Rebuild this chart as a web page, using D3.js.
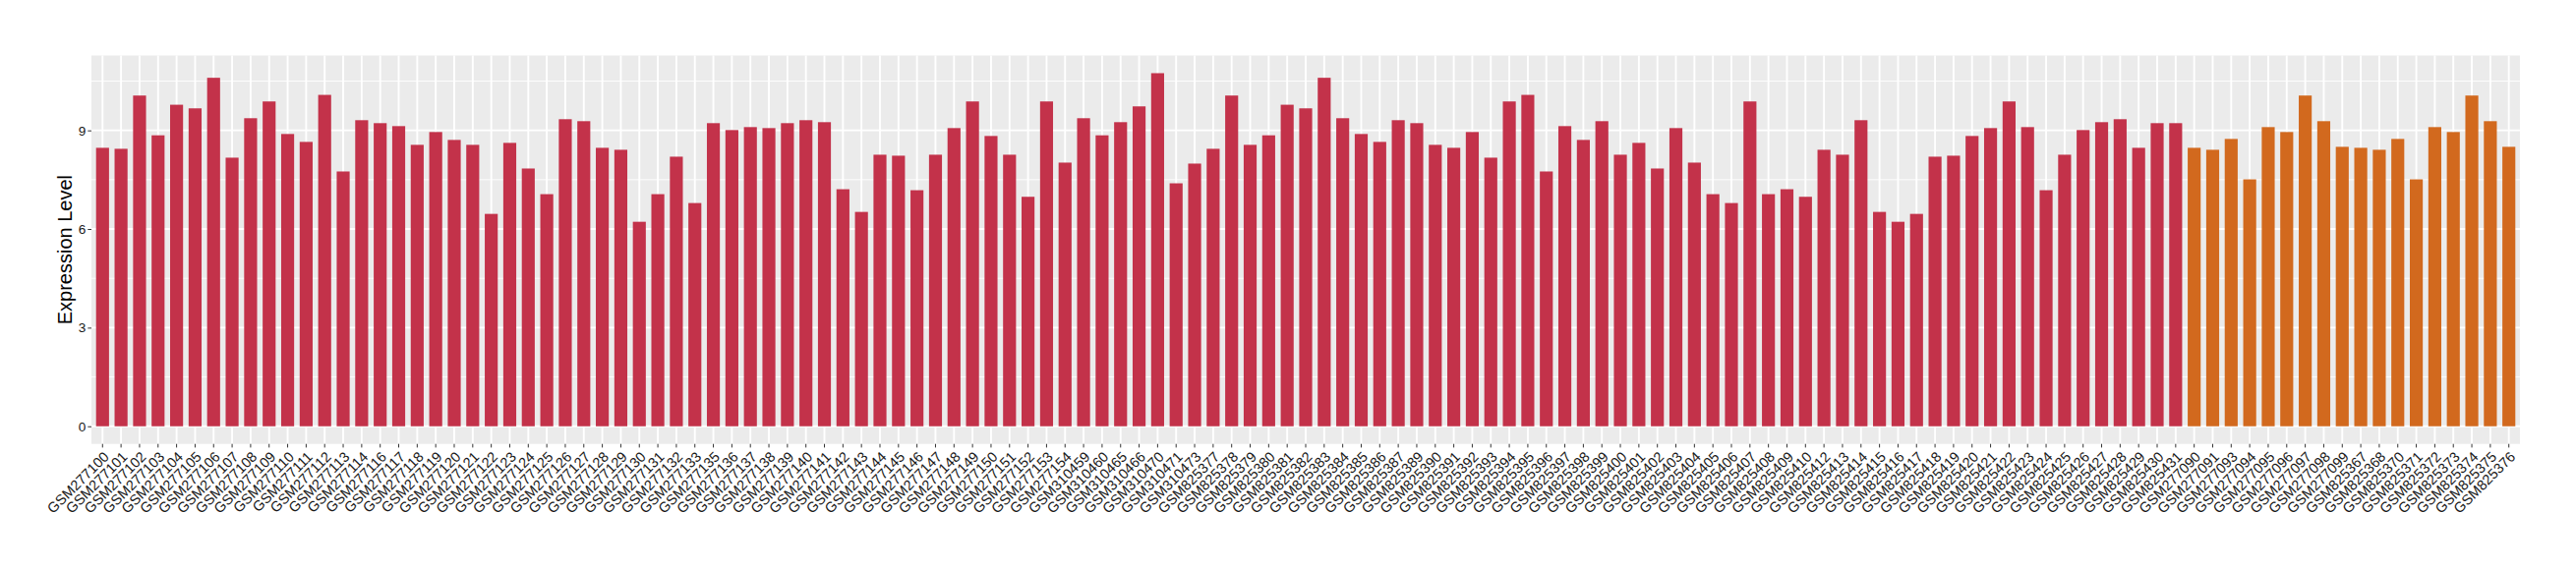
<!DOCTYPE html>
<html>
    <head>
        <style>
            body{
    margin: 0;
    background: #fff;
}
svg{
    display: block;
    font-family: "Liberation Sans", Arial, sans-serif;
}
        </style>
    </head>
    <body>
        <svg id="chart"></svg>
        <script src="https://d3js.org/d3.v7.min.js"></script>
        <script>
            // first group of samples (red bars)
            const samplesA = [
                "GSM277100","GSM277101","GSM277102","GSM277103","GSM277104","GSM277105","GSM277106","GSM277107","GSM277108","GSM277109",
                "GSM277110","GSM277111","GSM277112","GSM277113","GSM277114","GSM277116","GSM277117","GSM277118","GSM277119","GSM277120",
                "GSM277121","GSM277122","GSM277123","GSM277124","GSM277125","GSM277126","GSM277127","GSM277128","GSM277129","GSM277130",
                "GSM277131","GSM277132","GSM277133","GSM277135","GSM277136","GSM277137","GSM277138","GSM277139","GSM277140","GSM277141",
                "GSM277142","GSM277143","GSM277144","GSM277145","GSM277146","GSM277147","GSM277148","GSM277149","GSM277150","GSM277151",
                "GSM277152","GSM277153","GSM277154","GSM310459","GSM310460","GSM310465","GSM310466","GSM310470","GSM310471","GSM310473",
                "GSM825377","GSM825378","GSM825379","GSM825380","GSM825381","GSM825382","GSM825383","GSM825384","GSM825385","GSM825386",
                "GSM825387","GSM825389","GSM825390","GSM825391","GSM825392","GSM825393","GSM825394","GSM825395","GSM825396","GSM825397",
                "GSM825398","GSM825399","GSM825400","GSM825401","GSM825402","GSM825403","GSM825404","GSM825405","GSM825406","GSM825407",
                "GSM825408","GSM825409","GSM825410","GSM825412","GSM825413","GSM825414","GSM825415","GSM825416","GSM825417","GSM825418",
                "GSM825419","GSM825420","GSM825421","GSM825422","GSM825423","GSM825424","GSM825425","GSM825426","GSM825427","GSM825428",
                "GSM825429","GSM825430","GSM825431"
            ];
            const valuesA = [
                8.47,8.44,10.06,8.85,9.78,9.67,10.60,8.17,9.37,9.88,
                8.89,8.65,10.08,7.75,9.31,9.22,9.13,8.56,8.95,8.71,
                8.56,6.46,8.62,7.84,7.06,9.34,9.28,8.47,8.41,6.22,
                7.06,8.20,6.79,9.22,9.01,9.10,9.07,9.22,9.31,9.25,
                7.21,6.52,8.26,8.23,7.18,8.26,9.07,9.88,8.83,8.26,
                6.98,9.88,8.02,9.37,8.85,9.25,9.73,10.74,7.39,7.99,
                8.44,10.06,8.56,8.85,9.78,9.67,10.60,9.37,8.89,8.65,
                9.31,9.22,8.56,8.47,8.95,8.17,9.88,10.08,7.75,9.13,
                8.71,9.28,8.26,8.62,7.84,9.07,8.02,7.06,6.79,9.88,
                7.06,7.21,6.98,8.41,8.26,9.31,6.52,6.22,6.46,8.20,
                8.23,8.83,9.07,9.88,9.10,7.18,8.26,9.01,9.25,9.34,
                8.47,9.22,9.22
            ];
            // second group of samples (orange bars)
            const samplesB = [
                "GSM277090","GSM277091","GSM277093","GSM277094","GSM277095","GSM277096","GSM277097","GSM277098","GSM277099",
                "GSM825367","GSM825368","GSM825370","GSM825371","GSM825372","GSM825373","GSM825374","GSM825375","GSM825376"
            ];
            const valuesB = [
                8.47,8.41,8.74,7.51,9.10,8.95,10.06,9.28,8.50,
                8.47,8.41,8.74,7.51,9.10,8.95,10.06,9.28,8.50
            ];
            const yTicks = [0, 3, 6, 9];
            const yTitle = "Expression Level";

            const width = 2620;
            const height = 580;
            const margin = {top: 56.5, right: 57, bottom: 128.3, left: 93};
            const colors = {A: "#C3324A", B: "#D2691E"};

            const data = samplesA.map((s, i) => ({sample: s, value: valuesA[i], group: "A"}))
                .concat(samplesB.map((s, i) => ({sample: s, value: valuesB[i], group: "B"})));

            const svg = d3.select("#chart")
                .attr("width", width).attr("height", height);

            const x = d3.scaleBand()
                .domain(data.map(d => d.sample))
                .range([margin.left, width - margin.right])
                .paddingInner(0.3)
                .paddingOuter(0.25);

            // ggplot style expansion, 5% each side
            const yMax = d3.max(data, d => d.value);
            const y = d3.scaleLinear()
                .domain([-0.05 * yMax, 1.05 * yMax])
                .range([height - margin.bottom, margin.top]);

            drawPanel();
            drawBars();
            drawAxes();

            function drawPanel() {
                svg.append("rect")
                    .attr("x", margin.left)
                    .attr("y", margin.top)
                    .attr("width", width - margin.left - margin.right)
                    .attr("height", height - margin.top - margin.bottom)
                    .attr("fill", "#EBEBEB");

                const minor = d3.range(1.5, y.domain()[1], 3);
                svg.append("g").selectAll("line")
                    .data(minor)
                    .join("line")
                    .attr("x1", margin.left).attr("x2", width - margin.right)
                    .attr("y1", d => y(d)).attr("y2", d => y(d))
                    .attr("stroke", "#fff").attr("stroke-width", 0.9);

                svg.append("g").selectAll("line")
                    .data(yTicks)
                    .join("line")
                    .attr("x1", margin.left).attr("x2", width - margin.right)
                    .attr("y1", d => y(d)).attr("y2", d => y(d))
                    .attr("stroke", "#fff").attr("stroke-width", 1.9);

                svg.append("g").selectAll("line")
                    .data(x.domain())
                    .join("line")
                    .attr("x1", d => x(d) + x.bandwidth() / 2)
                    .attr("x2", d => x(d) + x.bandwidth() / 2)
                    .attr("y1", margin.top).attr("y2", height - margin.bottom)
                    .attr("stroke", "#fff").attr("stroke-width", 1.9);
            }

            function drawBars() {
                svg.append("g").selectAll("rect")
                    .data(data)
                    .join("rect")
                    .attr("x", d => x(d.sample))
                    .attr("width", x.bandwidth())
                    .attr("y", d => y(d.value))
                    .attr("height", d => y(0) - y(d.value))
                    .attr("fill", d => colors[d.group]);
            }

            function drawAxes() {
                const yAxis = svg.append("g")
                    .attr("transform", `translate(${margin.left},0)`)
                    .call(d3.axisLeft(y).tickValues(yTicks).tickSize(3.7).tickPadding(2).tickFormat(d3.format("d")));
                yAxis.select(".domain").remove();
                yAxis.selectAll(".tick line").attr("stroke", "#333").attr("stroke-width", 1);
                yAxis.selectAll(".tick text")
                    .attr("fill", "#1a1a1a")
                    .style("font-size", "13.6px");

                const xAxis = svg.append("g")
                    .attr("transform", `translate(0,${height - margin.bottom})`)
                    .call(d3.axisBottom(x).tickSize(3.7).tickSizeOuter(0));
                xAxis.select(".domain").remove();
                xAxis.selectAll(".tick line").attr("stroke", "#333").attr("stroke-width", 1);
                xAxis.selectAll(".tick text")
                    .attr("fill", "#1a1a1a")
                    .attr("text-anchor", "end")
                    .attr("x", 0).attr("y", 0)
                    .attr("dy", "0.72em")
                    .attr("transform", "translate(0,6.6) rotate(-45)")
                    .style("font-size", "14.5px");

                svg.append("text")
                    .attr("transform", `translate(73,${(margin.top + height - margin.bottom) / 2}) rotate(-90)`)
                    .attr("text-anchor", "middle")
                    .attr("fill", "#000")
                    .style("font-size", "20px")
                    .text(yTitle);
            }
        </script>
    </body>
</html>
